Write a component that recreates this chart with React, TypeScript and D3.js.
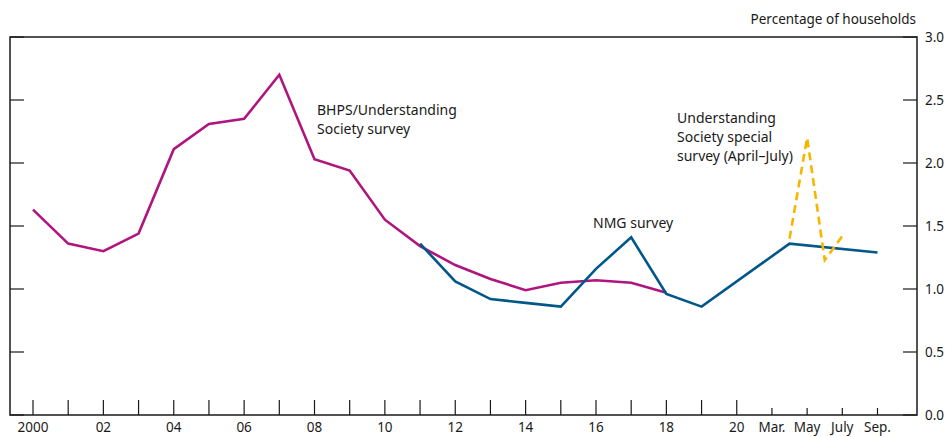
import React from "react";
import * as d3 from "d3";

// x positions are on an index scale: 0 = 2000 ... 20 = 2020, 21 = Mar., 22 = May, 23 = July, 24 = Sep. (2020 months)
const tickLabels = ["2000", "", "02", "", "04", "", "06", "", "08", "", "10", "", "12", "", "14", "", "16", "", "18", "", "20", "Mar.", "May", "July", "Sep."];
const bhpsX = [0, 1, 2, 3, 4, 5, 6, 7, 8, 9, 10, 11, 12, 13, 14, 15, 16, 17, 18];
const bhpsY = [1.63, 1.36, 1.3, 1.44, 2.11, 2.31, 2.35, 2.7, 2.03, 1.94, 1.55, 1.34, 1.19, 1.08, 0.99, 1.05, 1.07, 1.05, 0.97];
const nmgX = [11, 12, 13, 14, 15, 16, 17, 18, 19, 21.5, 24];
const nmgY = [1.36, 1.06, 0.92, 0.89, 0.86, 1.16, 1.41, 0.96, 0.86, 1.36, 1.29];
const usX = [21.5, 22, 22.5, 23];
const usY = [1.4, 2.2, 1.23, 1.42];
const yTicks = [0, 0.5, 1, 1.5, 2, 2.5, 3];

const W = 948, H = 437;
const FONT = "'Noto Sans', 'Open Sans', sans-serif";

export default function App() {
  const x = d3.scaleLinear().domain([0, 24]).range([33, 877.5]);
  const y = d3.scaleLinear().domain([0, 3]).range([415, 37]);
  const left = 10, right = 917, top = 37, bottom = 415;
  const line = (xs: number[], ys: number[]) =>
    d3.line<number>().x((_, i) => x(xs[i])).y((v) => y(v))(ys) || "";
  const ticks = d3.range(0, 25);
  return (
    <svg width={W} height={H} style={{ position: "absolute", left: 0, top: 0, fontFamily: FONT }}>
      <rect x={0} y={0} width={W} height={H} fill="#fff" />
      <rect x={left} y={top} width={right - left} height={bottom - top} fill="none" stroke="#1a1a1a" strokeWidth={1.5} />
      {yTicks.map((t) => (
        <g key={t}>
          <line x1={left} x2={left + 14} y1={y(t)} y2={y(t)} stroke="#1a1a1a" strokeWidth={1.2} />
          <line x1={right - 14} x2={right} y1={y(t)} y2={y(t)} stroke="#1a1a1a" strokeWidth={1.2} />
          <text x={925} y={y(t) + 5} fontSize={13.5} fill="#1a1a1a">{t.toFixed(1)}</text>
        </g>
      ))}
      {ticks.map((i) => (
        <g key={i}>
          <line x1={x(i)} x2={x(i)} y1={bottom} y2={bottom - (i <= 20 ? 15 : 7)} stroke="#1a1a1a" strokeWidth={1.2} />
          <text x={x(i)} y={432} fontSize={13.5} textAnchor="middle" fill="#1a1a1a">{tickLabels[i]}</text>
        </g>
      ))}
      <text x={916} y={24} fontSize={13.5} textAnchor="end" fill="#1a1a1a">Percentage of households</text>
      <path d={line(bhpsX, bhpsY)} fill="none" stroke="#b0157f" strokeWidth={2.6} strokeLinejoin="miter" />
      <path d={line(nmgX, nmgY)} fill="none" stroke="#005789" strokeWidth={2.6} />
      <path d={line(usX, usY)} fill="none" stroke="#f7b500" strokeWidth={2.6} strokeDasharray="8,5" />
      <g fontSize={14} fill="#1a1a1a">
        <text x={317} y={115}>BHPS/Understanding</text>
        <text x={317} y={134}>Society survey</text>
        <text x={593} y={228}>NMG survey</text>
        <text x={677} y={123}>Understanding</text>
        <text x={677} y={142}>Society special</text>
        <text x={677} y={161}>survey (April–July)</text>
      </g>
    </svg>
  );
}
